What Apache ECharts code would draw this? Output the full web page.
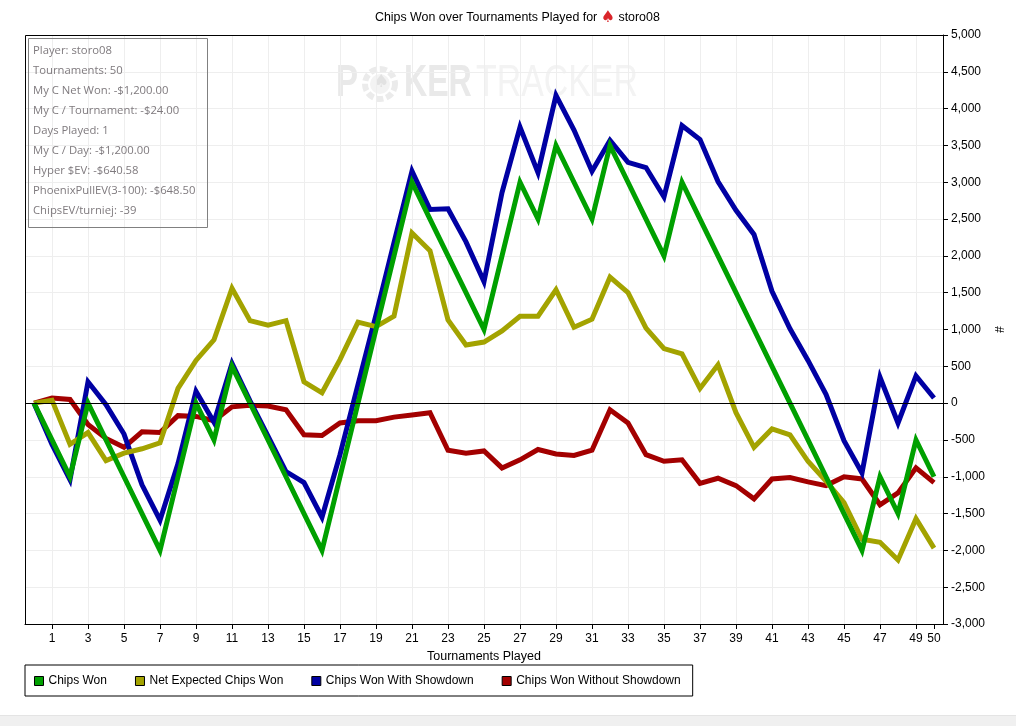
<!DOCTYPE html>
<html>
<head>
<meta charset="utf-8">
<title>Chips Won over Tournaments Played</title>
<script src="https://cdn.jsdelivr.net/npm/echarts@6/dist/echarts.min.js"></script>
<style>
  html, body { margin: 0; padding: 0; background: #fff; }
  #chart { width: 1016px; height: 726px; }
</style>
</head>
<body>
<div id="chart"></div>
<script>
const tournaments = [0,1,2,3,4,5,6,7,8,9,10,11,12,13,14,15,16,17,18,19,20,21,22,23,24,25,26,27,28,29,30,31,32,33,34,35,36,37,38,39,40,41,42,43,44,45,46,47,48,49,50];
const xTicks = [1,3,5,7,9,11,13,15,17,19,21,23,25,27,29,31,33,35,37,39,41,43,45,47,49,50];

const chipsWon = [0,-500,-1000,0,-500,-1000,-1500,-2000,-1000,0,-500,500,0,-500,-1000,-1500,-2000,-1000,0,1000,2000,3000,2500,2000,1500,1000,2000,3000,2500,3500,3000,2500,3500,3000,2500,2000,3000,2500,2000,1500,1000,500,0,-500,-1000,-1500,-2000,-1000,-1500,-500,-1000];
const netExpected = [0,40,-560,-400,-780,-680,-620,-540,200,580,860,1560,1120,1060,1120,290,140,590,1100,1040,1180,2310,2070,1130,790,830,980,1180,1180,1540,1030,1140,1710,1500,1020,740,670,200,520,-130,-600,-350,-430,-790,-1060,-1350,-1850,-1890,-2130,-1570,-1970];
const withShowdown = [0,-560,-1040,290,-20,-420,-1110,-1590,-820,160,-260,540,30,-450,-930,-1080,-1550,-700,250,1200,2180,3150,2630,2640,2190,1650,2860,3750,3130,4180,3710,3150,3570,3270,3200,2800,3770,3580,3010,2620,2290,1520,1010,580,120,-510,-950,350,-270,370,70];
const withoutShowdown = [0,70,50,-290,-480,-600,-390,-400,-170,-180,-240,-50,-30,-40,-90,-430,-440,-270,-240,-240,-190,-160,-130,-640,-680,-650,-880,-770,-630,-690,-710,-640,-90,-270,-700,-790,-770,-1090,-1020,-1120,-1300,-1030,-1010,-1070,-1120,-1000,-1030,-1380,-1220,-880,-1080];

const infoLines = [
  'Player: storo08',
  'Tournaments: 50',
  'My C Net Won: -$1,200.00',
  'My C / Tournament: -$24.00',
  'Days Played: 1',
  'My C / Day: -$1,200.00',
  'Hyper $EV: -$640.58',
  'PhoenixPullEV(3-100): -$648.50',
  'ChipsEV/turniej: -39'
];

const FONT = '"Liberation Sans", Arial, sans-serif';

const toPairs = (values) => values.map((v, i) => [tournaments[i], v]);

const makeSeries = (name, color, values) => ({
  name: name,
  type: 'line',
  data: toPairs(values),
  showSymbol: false,
  symbol: 'none',
  animation: false,
  silent: true,
  itemStyle: { color: color },
  lineStyle: { color: color, width: 5, join: 'miter', miterLimit: 10 }
});

// drawn bottom to top: red, blue, olive, green
const series = [
  makeSeries('Chips Won Without Showdown', '#a30000', withoutShowdown),
  makeSeries('Chips Won With Showdown', '#0000a3', withShowdown),
  makeSeries('Net Expected Chips Won', '#a3a300', netExpected),
  makeSeries('Chips Won', '#00a000', chipsWon)
];
// black zero line
series[0].markLine = {
  silent: true,
  symbol: 'none',
  animation: false,
  label: { show: false },
  lineStyle: { color: '#000', width: 1, type: 'solid' },
  data: [{ yAxis: 0 }]
};

const infoTexts = infoLines.map((line, i) => ({
  type: 'text',
  left: 33,
  top: 45 + i * 20,
  z: 5,
  style: { text: line, fill: '#7f7a7e', font: '11.3px "Open Sans", sans-serif' }
}));

const watermark = [
  { type: 'text', x: 336, y: 62, z: 0, scaleX: 0.75, style: { text: 'P', fill: '#e9e9e9', font: 'bold 44px "Liberation Sans"' } },
  { type: 'circle', shape: { cx: 380, cy: 84, r: 15 }, z: 0, style: { fill: 'none', stroke: '#ebebeb', lineWidth: 6, lineDash: [7, 3] } },
  { type: 'circle', shape: { cx: 380, cy: 84, r: 10 }, z: 0, style: { fill: '#f3f3f3', stroke: null } },
  { type: 'text', x: 373, y: 73, z: 0, style: { text: '♠', fill: '#e2e2e2', font: '18px "DejaVu Sans"' } },
  { type: 'text', x: 404, y: 62, z: 0, scaleX: 0.73, style: { text: 'KER', fill: '#e9e9e9', font: 'bold 44px "Liberation Sans"' } },
  { type: 'text', x: 476, y: 62, z: 0, scaleX: 0.77, style: { text: 'TRACKER', fill: '#f3f3f3', font: '44px "Liberation Sans"' } }
];

const option = {
  backgroundColor: '#fff',
  animation: false,
  textStyle: { fontFamily: FONT, fontSize: 12, color: '#000' },
  title: {
    left: 375,
    top: 10,
    padding: 0,
    text: 'Chips Won over Tournaments Played for {spade|♠} storo08',
    textStyle: {
      fontFamily: FONT,
      fontSize: 12.4,
      fontWeight: 'normal',
      color: '#000',
      rich: {
        spade: { fontFamily: '"DejaVu Sans"', fontSize: 16, color: '#d9252a' }
      }
    }
  },
  legend: {
    left: 25,
    top: 665,
    orient: 'horizontal',
    data: ['Chips Won', 'Net Expected Chips Won', 'Chips Won With Showdown', 'Chips Won Without Showdown'],
    icon: 'rect',
    itemWidth: 9,
    itemHeight: 9,
    itemGap: 28,
    padding: [10, 12, 9, 9],
    borderColor: '#000',
    borderWidth: 1,
    selectedMode: false,
    itemStyle: { borderColor: '#000', borderWidth: 1 },
    textStyle: { fontFamily: FONT, fontSize: 12, color: '#000' }
  },
  grid: {
    left: 25,
    right: 73,
    top: 35,
    bottom: 102,
    outerBoundsMode: 'none'
  },
  xAxis: {
    type: 'value',
    min: -0.5,
    max: 50.5,
    name: 'Tournaments Played',
    nameLocation: 'middle',
    nameGap: 24,
    nameTextStyle: { fontFamily: FONT, fontSize: 12.5, color: '#000' },
    axisLine: { onZero: false, lineStyle: { color: '#000' } },
    axisTick: { customValues: xTicks, length: 5, lineStyle: { color: '#000' } },
    axisLabel: { customValues: xTicks, color: '#000', fontFamily: FONT, fontSize: 12, margin: 9 },
    splitLine: { show: true, showMaxLine: false, lineStyle: { color: '#eeeeee' } }
  },
  yAxis: {
    type: 'value',
    position: 'right',
    min: -3000,
    max: 5000,
    interval: 500,
    name: '#',
    nameLocation: 'middle',
    nameGap: 49,
    nameMoveOverlap: false,
    nameRotate: -90,
    nameTextStyle: { fontFamily: FONT, fontSize: 12, color: '#000' },
    axisLine: { show: true, onZero: false, lineStyle: { color: '#000' } },
    axisTick: { show: true, length: 5, lineStyle: { color: '#000' } },
    axisLabel: {
      color: '#000',
      fontFamily: FONT,
      fontSize: 12,
      margin: 8,
      formatter: (v) => echarts.format.addCommas(v)
    },
    splitLine: { show: true, lineStyle: { color: '#eeeeee' } }
  },
  graphic: [
    ...watermark,
    // plot frame, kept above the grid lines so they do not nick it
    { type: 'rect', shape: { x: 25.5, y: 35.5, width: 918, height: 589 }, z: 4, style: { fill: 'none', stroke: '#000', lineWidth: 1 } },
    { type: 'rect', shape: { x: 28.5, y: 38.5, width: 179, height: 189 }, z: 5, style: { fill: 'none', stroke: '#808080', lineWidth: 1 } },
    ...infoTexts,
    { type: 'rect', shape: { x: 0, y: 715, width: 1016, height: 11 }, z: 0, style: { fill: '#f0f0f0', stroke: null } },
    { type: 'rect', shape: { x: 0, y: 715, width: 1016, height: 1 }, z: 0, style: { fill: '#e4e4e4', stroke: null } }
  ],
  series: series
};

const chart = echarts.init(document.getElementById('chart'));
chart.setOption(option);
</script>
</body>
</html>
